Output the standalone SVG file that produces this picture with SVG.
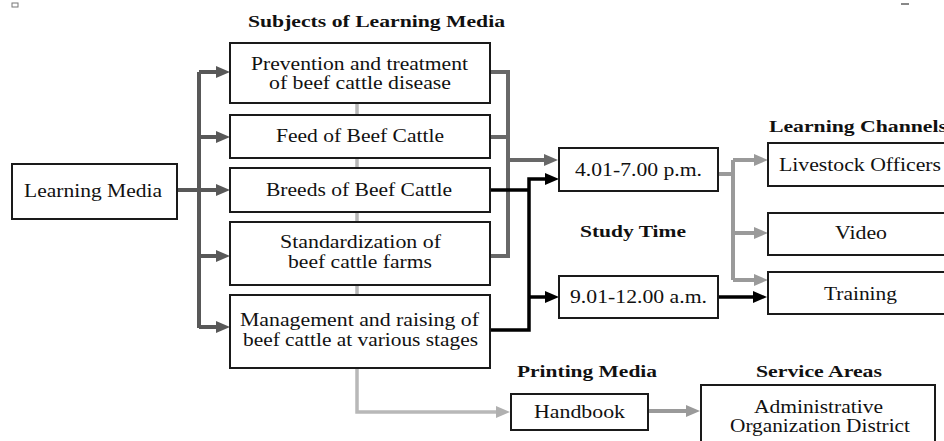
<svg xmlns="http://www.w3.org/2000/svg" width="944" height="441" viewBox="0 0 944 441">
<defs>
<marker id="aDk" markerUnits="userSpaceOnUse" markerWidth="14" markerHeight="12" refX="6" refY="6" orient="auto"><path d="M0,0 L14,6 L0,12 z" fill="#585858"/></marker>
<marker id="aMd" markerUnits="userSpaceOnUse" markerWidth="14" markerHeight="12" refX="6" refY="6" orient="auto"><path d="M0,0 L14,6 L0,12 z" fill="#686868"/></marker>
<marker id="aLt" markerUnits="userSpaceOnUse" markerWidth="14" markerHeight="12" refX="6" refY="6" orient="auto"><path d="M0,0 L14,6 L0,12 z" fill="#9a9a9a"/></marker>
<marker id="aVl" markerUnits="userSpaceOnUse" markerWidth="14" markerHeight="12" refX="6" refY="6" orient="auto"><path d="M0,0 L14,6 L0,12 z" fill="#b0b0b0"/></marker>
<marker id="aBk" markerUnits="userSpaceOnUse" markerWidth="14" markerHeight="12" refX="6" refY="6" orient="auto"><path d="M0,0 L14,6 L0,12 z" fill="#000"/></marker>
</defs>
<rect x="0" y="0" width="944" height="441" fill="#fff"/>
<rect x="12" y="3" width="6" height="4" fill="none" stroke="#777" stroke-width="1"/>
<rect x="901" y="3" width="8" height="2" fill="#888"/>

<g id="connectors" fill="none" stroke-width="4">
  <g stroke="#b8b8b8" stroke-width="3.5">
    <path d="M357,103 V115 M357,158 V168 M357,212 V222 M357,285 V295"/>
    <path d="M357,368 V412 H502" marker-end="url(#aVl)"/>
  </g>
  <path stroke="#9a9a9a" d="M648,411 H692" marker-end="url(#aLt)"/>
  <g stroke="#585858">
    <path d="M177,190 H222" marker-end="url(#aDk)"/>
    <path d="M199,72 V328"/>
    <path d="M199,72 H222" marker-end="url(#aDk)"/>
    <path d="M199,137 H222" marker-end="url(#aDk)"/>
    <path d="M199,256 H222" marker-end="url(#aDk)"/>
    <path d="M199,327 H222" marker-end="url(#aDk)"/>
  </g>
  <g stroke="#686868">
    <path d="M490,72 H508 V256 H490 M490,137 H508"/>
    <path d="M508,160 H550" marker-end="url(#aMd)"/>
  </g>
  <g stroke="#000" stroke-width="3.5">
    <path d="M490,190 H529"/>
    <path d="M490,330 H529 V179 H551" marker-end="url(#aBk)"/>
    <path d="M529,297 H551" marker-end="url(#aBk)"/>
    <path d="M718,297 H759" marker-end="url(#aBk)"/>
  </g>
  <g stroke="#9a9a9a">
    <path d="M718,174 H733 M733,160 V280"/>
    <path d="M733,160 H760" marker-end="url(#aLt)"/>
    <path d="M733,233 H760" marker-end="url(#aLt)"/>
    <path d="M733,280 H760" marker-end="url(#aLt)"/>
  </g>
</g>

<g id="titles" font-family="Liberation Serif" font-size="17" font-weight="bold" fill="#111">
  <text x="248" y="27" textLength="257" lengthAdjust="spacingAndGlyphs">Subjects of Learning Media</text>
  <text x="580" y="237" textLength="106" lengthAdjust="spacingAndGlyphs">Study Time</text>
  <text x="769" y="132" textLength="178" lengthAdjust="spacingAndGlyphs">Learning Channels</text>
  <text x="517" y="377" textLength="140" lengthAdjust="spacingAndGlyphs">Printing Media</text>
  <text x="756" y="377" textLength="126" lengthAdjust="spacingAndGlyphs">Service Areas</text>
</g>

<g id="nodes" font-family="Liberation Serif" font-size="18" fill="#111">
<g id="learning-media">
  <rect x="12" y="164" width="165" height="55" fill="#fff" stroke="#1a1a1a" stroke-width="2"/>
  <text x="24" y="197" textLength="138" lengthAdjust="spacingAndGlyphs">Learning Media</text>
</g>
<g id="prevention">
  <rect x="230" y="43" width="260" height="60" fill="#fff" stroke="#1a1a1a" stroke-width="2"/>
  <text x="251" y="70" textLength="217" lengthAdjust="spacingAndGlyphs">Prevention and treatment</text>
  <text x="269" y="89" textLength="182" lengthAdjust="spacingAndGlyphs">of beef cattle disease</text>
</g>
<g id="feed">
  <rect x="230" y="115" width="260" height="43" fill="#fff" stroke="#1a1a1a" stroke-width="2"/>
  <text x="276" y="142" textLength="168" lengthAdjust="spacingAndGlyphs">Feed of Beef Cattle</text>
</g>
<g id="breeds">
  <rect x="230" y="168" width="260" height="44" fill="#fff" stroke="#1a1a1a" stroke-width="2"/>
  <text x="266" y="196" textLength="186" lengthAdjust="spacingAndGlyphs">Breeds of Beef Cattle</text>
</g>
<g id="standardization">
  <rect x="230" y="222" width="260" height="63" fill="#fff" stroke="#1a1a1a" stroke-width="2"/>
  <text x="280" y="248" textLength="161" lengthAdjust="spacingAndGlyphs">Standardization of</text>
  <text x="288" y="268" textLength="144" lengthAdjust="spacingAndGlyphs">beef cattle farms</text>
</g>
<g id="management">
  <rect x="230" y="295" width="260" height="73" fill="#fff" stroke="#1a1a1a" stroke-width="2"/>
  <text x="240" y="326" textLength="239" lengthAdjust="spacingAndGlyphs">Management and raising of</text>
  <text x="243" y="346" textLength="235" lengthAdjust="spacingAndGlyphs">beef cattle at various stages</text>
</g>
<g id="time-pm">
  <rect x="559" y="148" width="159" height="43" fill="#fff" stroke="#1a1a1a" stroke-width="2"/>
  <text x="575" y="176" textLength="127" lengthAdjust="spacingAndGlyphs">4.01-7.00 p.m.</text>
</g>
<g id="time-am">
  <rect x="559" y="276" width="159" height="42" fill="#fff" stroke="#1a1a1a" stroke-width="2"/>
  <text x="570" y="303" textLength="137" lengthAdjust="spacingAndGlyphs">9.01-12.00 a.m.</text>
</g>
<g id="livestock-officers">
  <rect x="768" y="143" width="190" height="43" fill="#fff" stroke="#1a1a1a" stroke-width="2"/>
  <text x="779" y="171" textLength="162" lengthAdjust="spacingAndGlyphs">Livestock Officers</text>
</g>
<g id="video">
  <rect x="768" y="213" width="190" height="42" fill="#fff" stroke="#1a1a1a" stroke-width="2"/>
  <text x="835" y="239" textLength="52" lengthAdjust="spacingAndGlyphs">Video</text>
</g>
<g id="training">
  <rect x="768" y="272" width="190" height="42" fill="#fff" stroke="#1a1a1a" stroke-width="2"/>
  <text x="824" y="300" textLength="73" lengthAdjust="spacingAndGlyphs">Training</text>
</g>
<g id="handbook">
  <rect x="511" y="394" width="137" height="36" fill="#fff" stroke="#1a1a1a" stroke-width="2"/>
  <text x="534" y="418" textLength="91" lengthAdjust="spacingAndGlyphs">Handbook</text>
</g>
<g id="service-area">
  <rect x="701" y="385" width="234" height="70" fill="#fff" stroke="#1a1a1a" stroke-width="2"/>
  <text x="754" y="413" textLength="129" lengthAdjust="spacingAndGlyphs">Administrative</text>
  <text x="730" y="432" textLength="180" lengthAdjust="spacingAndGlyphs">Organization District</text>
</g>
</g>
</svg>
